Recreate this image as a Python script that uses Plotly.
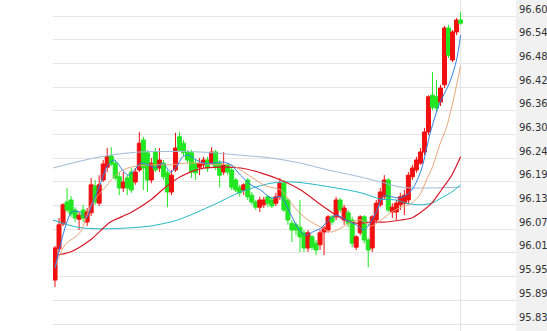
import numpy as np
import plotly.graph_objects as go

# ---- candle data (index 0..101) ----
opens = [95.94, 96.018, 96.08, 96.135, 96.14, 96.115, 96.092, 96.115, 96.085, 96.108,
         96.175, 96.132, 96.19, 96.222, 96.25, 96.232, 96.198, 96.17, 96.195, 96.21,
         96.185, 96.215, 96.29, 96.258, 96.19, 96.26, 96.22, 96.232, 96.208, 96.16,
         96.215, 96.298, 96.282, 96.26, 96.258, 96.232, 96.222, 96.228, 96.24, 96.232,
         96.26, 96.232, 96.21, 96.228, 96.215, 96.19, 96.172, 96.165, 96.19, 96.152,
         96.135, 96.122, 96.128, 96.148, 96.14, 96.132, 96.148, 96.182, 96.14, 96.082,
         96.078, 96.072, 96.058, 96.02, 96.048, 96.032, 96.028, 96.06, 96.065, 96.098,
         96.098, 96.14, 96.09, 96.108, 96.09, 96.022, 96.058, 96.098, 96.04, 96.02,
         96.09, 96.128, 96.148, 96.19, 96.11, 96.11, 96.128, 96.132, 96.14, 96.198,
         96.215, 96.232, 96.26, 96.31, 96.402, 96.398, 96.385, 96.428, 96.57, 96.49,
         96.56, 96.59]
closes = [96.02, 96.078, 96.128, 96.115, 96.105, 96.095, 96.102, 96.095, 96.11, 96.178,
          96.135, 96.178, 96.23, 96.248, 96.23, 96.195, 96.17, 96.185, 96.17, 96.165,
          96.21, 96.282, 96.22, 96.19, 96.232, 96.215, 96.24, 96.198, 96.16, 96.202,
          96.27, 96.265, 96.258, 96.24, 96.21, 96.208, 96.232, 96.24, 96.22, 96.26,
          96.222, 96.202, 96.228, 96.21, 96.172, 96.165, 96.158, 96.178, 96.148, 96.135,
          96.122, 96.14, 96.14, 96.132, 96.125, 96.148, 96.182, 96.115, 96.09, 96.065,
          96.065, 96.048, 96.02, 96.058, 96.022, 96.015, 96.058, 96.07, 96.098, 96.085,
          96.14, 96.115, 96.12, 96.082, 96.032, 96.048, 96.098, 96.04, 96.015, 96.098,
          96.132, 96.16, 96.19, 96.115, 96.122, 96.132, 96.148, 96.152, 96.202, 96.22,
          96.24, 96.26, 96.31, 96.398, 96.372, 96.37, 96.42, 96.57, 96.502, 96.56,
          96.59, 96.582]
highs = [96.025, 96.095, 96.132, 96.17, 96.15, 96.122, 96.11, 96.128, 96.12, 96.195,
         96.19, 96.202, 96.24, 96.27, 96.272, 96.24, 96.21, 96.21, 96.202, 96.22,
         96.22, 96.31, 96.298, 96.265, 96.245, 96.27, 96.27, 96.24, 96.215, 96.215,
         96.308, 96.31, 96.29, 96.265, 96.265, 96.24, 96.245, 96.248, 96.248, 96.272,
         96.265, 96.24, 96.26, 96.232, 96.22, 96.195, 96.178, 96.182, 96.195, 96.16,
         96.14, 96.148, 96.148, 96.152, 96.148, 96.158, 96.195, 96.19, 96.145, 96.09,
         96.085, 96.14, 96.065, 96.065, 96.052, 96.04, 96.065, 96.075, 96.102, 96.102,
         96.148, 96.145, 96.128, 96.115, 96.098, 96.052, 96.102, 96.102, 96.045, 96.102,
         96.14, 96.17, 96.202, 96.195, 96.132, 96.14, 96.158, 96.165, 96.21, 96.228,
         96.248, 96.27, 96.32, 96.402, 96.46, 96.44, 96.428, 96.575, 96.578, 96.565,
         96.595, 96.61]
lows = [95.922, 96.01, 96.075, 96.11, 96.098, 96.085, 96.065, 96.085, 96.075, 96.10,
        96.128, 96.125, 96.185, 96.21, 96.225, 96.19, 96.152, 96.16, 96.152, 96.158,
        96.178, 96.21, 96.165, 96.16, 96.182, 96.21, 96.21, 96.19, 96.122, 96.152,
        96.21, 96.26, 96.25, 96.232, 96.195, 96.19, 96.202, 96.22, 96.21, 96.228,
        96.215, 96.172, 96.202, 96.202, 96.165, 96.16, 96.148, 96.152, 96.14, 96.128,
        96.115, 96.11, 96.12, 96.122, 96.12, 96.125, 96.14, 96.11, 96.078, 96.035,
        96.052, 96.01, 96.01, 96.01, 96.015, 96.002, 96.015, 96.002, 96.058, 96.078,
        96.09, 96.108, 96.078, 96.072, 96.022, 96.015, 96.052, 96.032, 95.972, 96.01,
        96.085, 96.122, 96.14, 96.11, 96.095, 96.09, 96.115, 96.102, 96.128, 96.19,
        96.208, 96.228, 96.252, 96.302, 96.365, 96.36, 96.375, 96.42, 96.495, 96.485,
        96.552, 96.578]

# ---- moving averages (x = candle index) ----
ma5_x = [0, 4.2, 6.2, 7.8, 9.2, 11.2, 13.2, 14.8, 16.8, 18.2, 19.8, 21.2, 23.2, 25, 26.8,
         28.8, 30.2, 31.8, 33.2, 35.2, 37.2, 39.2, 41.8, 43.8, 46.2, 48.8, 51.2, 53.8,
         56.2, 58.8, 60.8, 62.5, 64.2, 66.2, 68.2, 70.2, 72.5, 75, 76.8, 78.2, 80, 81.8,
         83.8, 85.8, 87.5, 89.2, 91.2, 93.5, 95.8, 98.2, 100, 101]
ma5_y = [95.97, 96.11, 96.11, 96.095, 96.128, 96.178, 96.228, 96.24, 96.215, 96.202,
         96.215, 96.232, 96.228, 96.22, 96.232, 96.21, 96.222, 96.248, 96.252, 96.24,
         96.232, 96.232, 96.235, 96.228, 96.202, 96.178, 96.165, 96.145, 96.148, 96.102,
         96.065, 96.052, 96.06, 96.07, 96.09, 96.102, 96.09, 96.078, 96.065, 96.078,
         96.11, 96.15, 96.148, 96.145, 96.152, 96.17, 96.215, 96.31, 96.382, 96.432,
         96.49, 96.552]
ma10_x = [0, 2.5, 6.2, 9, 12.5, 15.8, 18.8, 23.8, 28.8, 32.5, 36.2, 40, 43.8, 46.2, 50,
          52.5, 56.2, 58.8, 61.2, 63.8, 66.2, 68.8, 71.2, 73.8, 76.2, 78.8, 81.2, 83.8,
          86.2, 88.8, 90.8, 92.5, 94, 95.8, 97.5, 99.2, 101]
ma10_y = [95.972, 96.028, 96.058, 96.128, 96.172, 96.208, 96.222, 96.228, 96.228, 96.232,
          96.232, 96.228, 96.228, 96.215, 96.19, 96.175, 96.165, 96.132, 96.105, 96.085,
          96.072, 96.06, 96.07, 96.085, 96.09, 96.075, 96.09, 96.11, 96.122, 96.132,
          96.152, 96.19, 96.222, 96.278, 96.322, 96.39, 96.475]
ma20_x = [0, 3.8, 8.8, 13.8, 18.8, 23.8, 27.5, 31.2, 36.2, 41.2, 46.2, 51.2, 56.2, 61.2,
          66.2, 71.2, 75, 78.8, 82.5, 86.2, 88.8, 91.2, 93.8, 96.2, 98.8, 101]
ma20_y = [96.002, 96.01, 96.04, 96.085, 96.108, 96.14, 96.172, 96.198, 96.218, 96.222,
          96.22, 96.208, 96.19, 96.165, 96.128, 96.095, 96.082, 96.085, 96.085, 96.09,
          96.095, 96.11, 96.132, 96.165, 96.202, 96.248]
ma30_x = [-0.5, 5.5, 11.2, 18, 23.8, 30.5, 39.5, 46.2, 53.8, 59.5, 68.8, 76.2, 81.2, 85,
          87.5, 90.8, 93.8, 96.2, 98.8, 101]
ma30_y = [96.09, 96.072, 96.068, 96.07, 96.075, 96.09, 96.128, 96.16, 96.182, 96.185,
          96.172, 96.158, 96.142, 96.14, 96.132, 96.128, 96.132, 96.145, 96.16, 96.178]
ma60_x = [-0.5, 11.2, 21.2, 36.2, 46.2, 53.8, 61.2, 68, 75, 81.2, 86.2, 93.8, 101]
ma60_y = [96.22, 96.248, 96.26, 96.26, 96.252, 96.245, 96.232, 96.215, 96.2, 96.185,
          96.172, 96.17, 96.172]

tick_labels = ["96.60", "96.54", "96.48", "96.42", "96.36", "96.30", "96.24",
               "96.19", "96.13", "96.07", "96.01", "95.95", "95.89", "95.83"]
tick_vals = list(np.linspace(96.60, 95.83, len(tick_labels)))

idx = list(range(len(opens)))

fig = go.Figure()
fig.add_trace(go.Candlestick(
    x=idx, open=opens, high=highs, low=lows, close=closes,
    increasing=dict(line=dict(color="#f01010", width=1), fillcolor="#f01010"),
    decreasing=dict(line=dict(color="#22e622", width=1), fillcolor="#22e622"),
    whiskerwidth=0, showlegend=False, hoverinfo="skip"))

for xs, ys, col, w in [
    (ma60_x, ma60_y, "#9dbbd8", 1),
    (ma30_x, ma30_y, "#1fb8c4", 1),
    (ma20_x, ma20_y, "#d8182a", 1.2),
    (ma10_x, ma10_y, "#e8a57a", 1),
    (ma5_x, ma5_y, "#2f7fe6", 1),
]:
    fig.add_trace(go.Scatter(x=xs, y=ys, mode="lines",
                             line=dict(color=col, width=w, shape="spline", smoothing=0.8),
                             showlegend=False, hoverinfo="skip"))

fig.add_shape(type="rect", xref="paper", yref="paper", x0=1, x1=1 + 31 / 463, y0=0, y1=1,
              fillcolor="#f1f1f1", line=dict(width=0), layer="below")
fig.add_shape(type="line", xref="x", yref="paper", x0=101, x1=101, y0=0, y1=1,
              line=dict(color="#e2e2e2", width=1), layer="below")

fig.update_layout(
    width=547, height=331,
    margin=dict(l=53, r=31, t=0, b=0),
    paper_bgcolor="white", plot_bgcolor="white",
    boxgap=0.0, boxgroupgap=0.0,
    xaxis=dict(range=[-0.5, 114.8], showgrid=False, showticklabels=False, zeroline=False,
               rangeslider=dict(visible=False), fixedrange=True),
    yaxis=dict(range=[95.8125, 96.64], side="right", tickvals=tick_vals, ticktext=tick_labels,
               showgrid=True, gridcolor="#e6e6e6", gridwidth=1, zeroline=False,
               ticks="", ticklabelshift=-7, ticklabelstandoff=2,
               tickfont=dict(family="DejaVu Sans", size=10, color="#333333")),
)

fig.write_html("out.html")
